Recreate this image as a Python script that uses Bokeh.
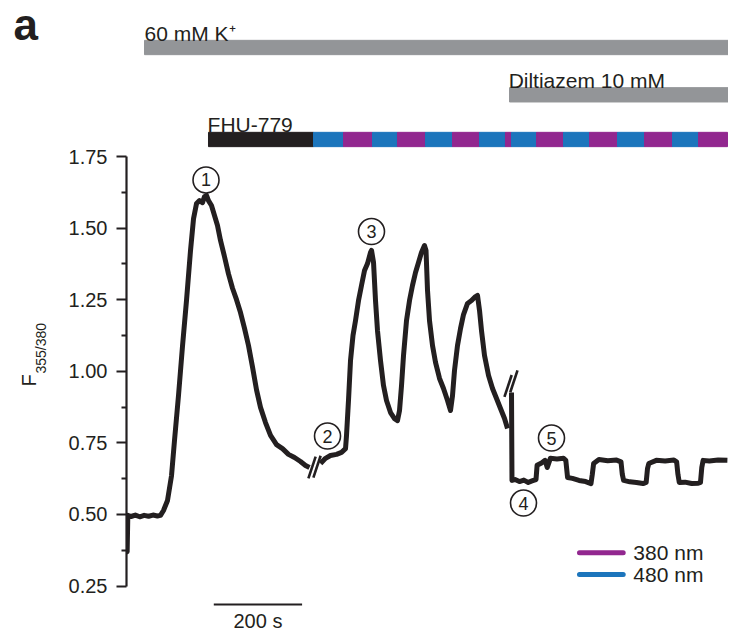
import math
from bokeh.plotting import figure
from bokeh.layouts import row
from bokeh.models import Range1d, FixedTicker
from bokeh.core.properties import value
from bokeh.embed import file_html
from bokeh.resources import INLINE

# ---------------- data (time in s, ratio F355/380) ----------------
t_a = [0, 1.5, 3, 10, 20, 30, 40, 50, 60, 70, 77, 83.8, 92.9, 102, 108.7, 117.8, 126.8, 135.9, 145,
       151.8, 158.6, 165.3, 172.1, 176.7, 181.2, 185.7, 192.5, 199.3, 206.1, 212.9, 222, 231, 240.1,
       249.2, 258.2, 267.3, 276.3, 285.4, 294.5, 303.5, 314.8, 326.2, 339.8, 353.3, 366.9, 380.5,
       394.1, 405.4, 414.5]
v_a = [0.38, 0.37, 0.497, 0.493, 0.498, 0.492, 0.497, 0.494, 0.498, 0.495, 0.497, 0.514, 0.549,
       0.636, 0.758, 0.916, 1.087, 1.247, 1.422, 1.533, 1.586, 1.596, 1.589, 1.610, 1.614, 1.596,
       1.579, 1.544, 1.509, 1.457, 1.400, 1.340, 1.290, 1.250, 1.205, 1.150, 1.090, 1.015, 0.935,
       0.874, 0.821, 0.776, 0.744, 0.730, 0.710, 0.699, 0.685, 0.671, 0.664]

t_b = [439.4, 450.7, 462, 475.7, 487, 496.1, 498.3, 502.8, 507.4, 513, 518.7, 525.5, 532.3, 539.1,
       545.9, 552.7, 555, 559.5, 564, 568.5, 575.3, 582.1, 588.9, 598, 607, 613.8, 618.4, 622.9,
       627.4, 634.2, 641, 647.8, 654.6, 661.4, 668.1, 674.9, 678.4, 681.8, 686.3, 693.1, 699.9, 709,
       718, 727.1, 733.9, 738.4, 742.9, 749.7, 756.5, 763.3, 772.4, 781.4, 790.5, 795, 799.6, 804.1,
       810.9, 820, 829, 838.1, 847.1, 856.2, 863]
v_b = [0.678, 0.696, 0.706, 0.710, 0.717, 0.730, 0.776, 0.898, 1.038, 1.125, 1.177, 1.247, 1.300,
       1.352, 1.376, 1.415, 1.422, 1.380, 1.247, 1.142, 1.038, 0.950, 0.898, 0.856, 0.835, 0.828,
       0.863, 0.950, 1.055, 1.177, 1.247, 1.300, 1.345, 1.380, 1.415, 1.439, 1.422, 1.282, 1.177,
       1.090, 1.031, 0.975, 0.940, 0.898, 0.863, 0.915, 1.003, 1.090, 1.149, 1.198, 1.237, 1.247,
       1.261, 1.265, 1.212, 1.142, 1.055, 0.985, 0.940, 0.905, 0.870, 0.835, 0.800]

t_c = [872, 873.1, 880, 890, 900, 910, 920, 927.5, 930, 940, 948, 953, 960, 975, 990, 995, 999,
       1010, 1025, 1040, 1052, 1055, 1058, 1070, 1090, 1110, 1120, 1123, 1126, 1140, 1155, 1170,
       1177, 1180, 1183, 1200, 1220, 1240, 1246, 1249, 1252, 1265, 1280, 1295, 1300, 1303, 1306,
       1320, 1340, 1361]
v_c = [0.926, 0.619, 0.622, 0.615, 0.620, 0.612, 0.618, 0.622, 0.672, 0.680, 0.689, 0.664, 0.696,
       0.694, 0.696, 0.689, 0.629, 0.626, 0.619, 0.615, 0.608, 0.640, 0.678, 0.692, 0.688, 0.690,
       0.684, 0.640, 0.619, 0.614, 0.612, 0.608, 0.612, 0.660, 0.678, 0.689, 0.687, 0.690, 0.684,
       0.640, 0.612, 0.613, 0.608, 0.609, 0.612, 0.664, 0.689, 0.687, 0.690, 0.689]

# axis breaks
break_t = [420.2, 431.5, 864.2, 877.4]
break_v = [0.664, 0.667, 0.949, 0.965]

# numbered events
event_t = [180.1, 455.3, 554.9, 899.2, 962.6]
event_v = [1.668, 0.774, 1.488, 0.540, 0.767]
event_labels = ["1", "2", "3", "4", "5"]

# drug application bars
k_start, k_end = 40.8, 1363.5
dil_start, dil_end = 867.5, 1363.5
fhu_edges = [185.7, 423.6, 491.5, 557.2, 613.8, 677.2, 738.4, 799.5, 858.4, 872, 928.7, 989.8,
             1048.7, 1112.1, 1173.3, 1236.7, 1295.6, 1361.3]
fhu_kinds = ["dark", "480", "380", "480", "380", "480", "380", "480", "380", "480", "380", "480",
             "380", "480", "380", "480", "380"]

tick_values = [0.25, 0.50, 0.75, 1.00, 1.25, 1.50, 1.75]
tick_labels = ["0.25", "0.50", "0.75", "1.00", "1.25", "1.50", "1.75"]
minor_values = [0.375, 0.625, 0.875, 1.125, 1.375, 1.625]

scale_start, scale_len = 197.7, 200

# ---------------- styles ----------------
INK = "#231f20"
GRAY = "#939598"
PURPLE = "#92278f"
BLUE = "#1c75bc"
FONT = value("Liberation Sans")
kind_color = {"dark": INK, "380": PURPLE, "480": BLUE}

H = 636
LEFT_W = 60
yr = Range1d(0.0740, 2.2947)

p = figure(width=728 - LEFT_W, height=H, output_backend="svg", toolbar_location=None,
           x_range=Range1d(0, 1363.5), y_range=yr,
           x_axis_location=None, min_border=0, min_border_left=126 - LEFT_W)
p.outline_line_color = None
p.xgrid.visible = False
p.ygrid.visible = False

ax = p.yaxis[0]
ax.bounds = (0.25, 1.75)
ax.ticker = FixedTicker(ticks=tick_values, minor_ticks=minor_values)
ax.major_label_overrides = {v: s for v, s in zip(tick_values, tick_labels)}
ax.axis_line_color = INK
ax.axis_line_width = 2.2
ax.major_tick_line_color = INK
ax.major_tick_line_width = 2.2
ax.major_tick_out = 10
ax.major_tick_in = 0
ax.minor_tick_line_color = INK
ax.minor_tick_line_width = 2.2
ax.minor_tick_out = 5
ax.minor_tick_in = 0
ax.major_label_standoff = 9
ax.major_label_text_font = "Liberation Sans"
ax.major_label_text_font_size = "20px"
ax.major_label_text_color = INK

# application bars
bar_h = 0.05
p.hbar(y=[2.1306], left=[k_start], right=[k_end], height=bar_h, color=GRAY)
p.hbar(y=[1.9654], left=[dil_start], right=[dil_end], height=bar_h, color=GRAY)
p.hbar(y=[1.8094] * len(fhu_kinds), left=fhu_edges[:-1], right=fhu_edges[1:], height=bar_h,
       color=[kind_color[k] for k in fhu_kinds])

p.text(x=[k_start, dil_start - 2, fhu_edges[0] - 2], y=[2.181, 2.017, 1.861],
       text=["60 mM K\u207a", "Diltiazem 10 mM", "FHU-779"], text_font=FONT,
       text_font_size="21px", text_color=INK, text_align="left", text_baseline="middle")

# trace
for tt, vv in ((t_a, v_a), (t_b, v_b), (t_c, v_c)):
    p.line(tt, vv, line_color=INK, line_width=5, line_join="round")

p.scatter(break_t, break_v, marker="dash", size=23, angle=1.25, line_color=INK, line_width=2.6)

p.scatter(event_t, event_v, marker="circle", size=26, fill_color="white", line_color=INK,
          line_width=1.6)
p.text(event_t, event_v, text=event_labels, text_font=FONT, text_font_size="18px",
       text_color=INK, text_align="center", text_baseline="middle")

# legend
p.segment(x0=[1026, 1026], y0=[0.3663, 0.2905], x1=[1125, 1125], y1=[0.3663, 0.2905],
          line_color=[PURPLE, BLUE], line_width=5, line_cap="round")
p.text(x=[1148, 1148], y=[0.3663, 0.2905], text=["380 nm", "480 nm"], text_font=FONT,
       text_font_size="21px", text_color=INK, text_align="left", text_baseline="middle")

# scale bar
p.segment(x0=[scale_start], y0=[0.1857], x1=[scale_start + scale_len], y1=[0.1857],
          line_color=INK, line_width=2)
p.text(x=[scale_start + scale_len / 2], y=[0.128], text=[f"{scale_len} s"], text_font=FONT,
       text_font_size="20px", text_color=INK, text_align="center", text_baseline="middle")

# left strip: panel letter and y-axis title
q = figure(width=LEFT_W, height=H, output_backend="svg", toolbar_location=None,
           x_range=Range1d(0, LEFT_W), y_range=yr, x_axis_location=None,
           y_axis_location=None, min_border=0)
q.outline_line_color = None
q.xgrid.visible = False
q.ygrid.visible = False
q.text(x=[13], y=[2.212], text=["a"], text_font=FONT, text_font_size="44px",
       text_font_style="bold", text_color=INK, text_align="left", text_baseline="middle")
q.text(x=[28.5], y=[0.947], text=["F"], angle=math.pi / 2, text_font=FONT,
       text_font_size="20px", text_color=INK, text_align="left", text_baseline="middle")
q.text(x=[40.5], y=[0.992], text=["355/380"], angle=math.pi / 2, text_font=FONT,
       text_font_size="14px", text_color=INK, text_align="left", text_baseline="middle")

layout = row(q, p, spacing=0)
open("out.html", "w").write(file_html(layout, INLINE))
